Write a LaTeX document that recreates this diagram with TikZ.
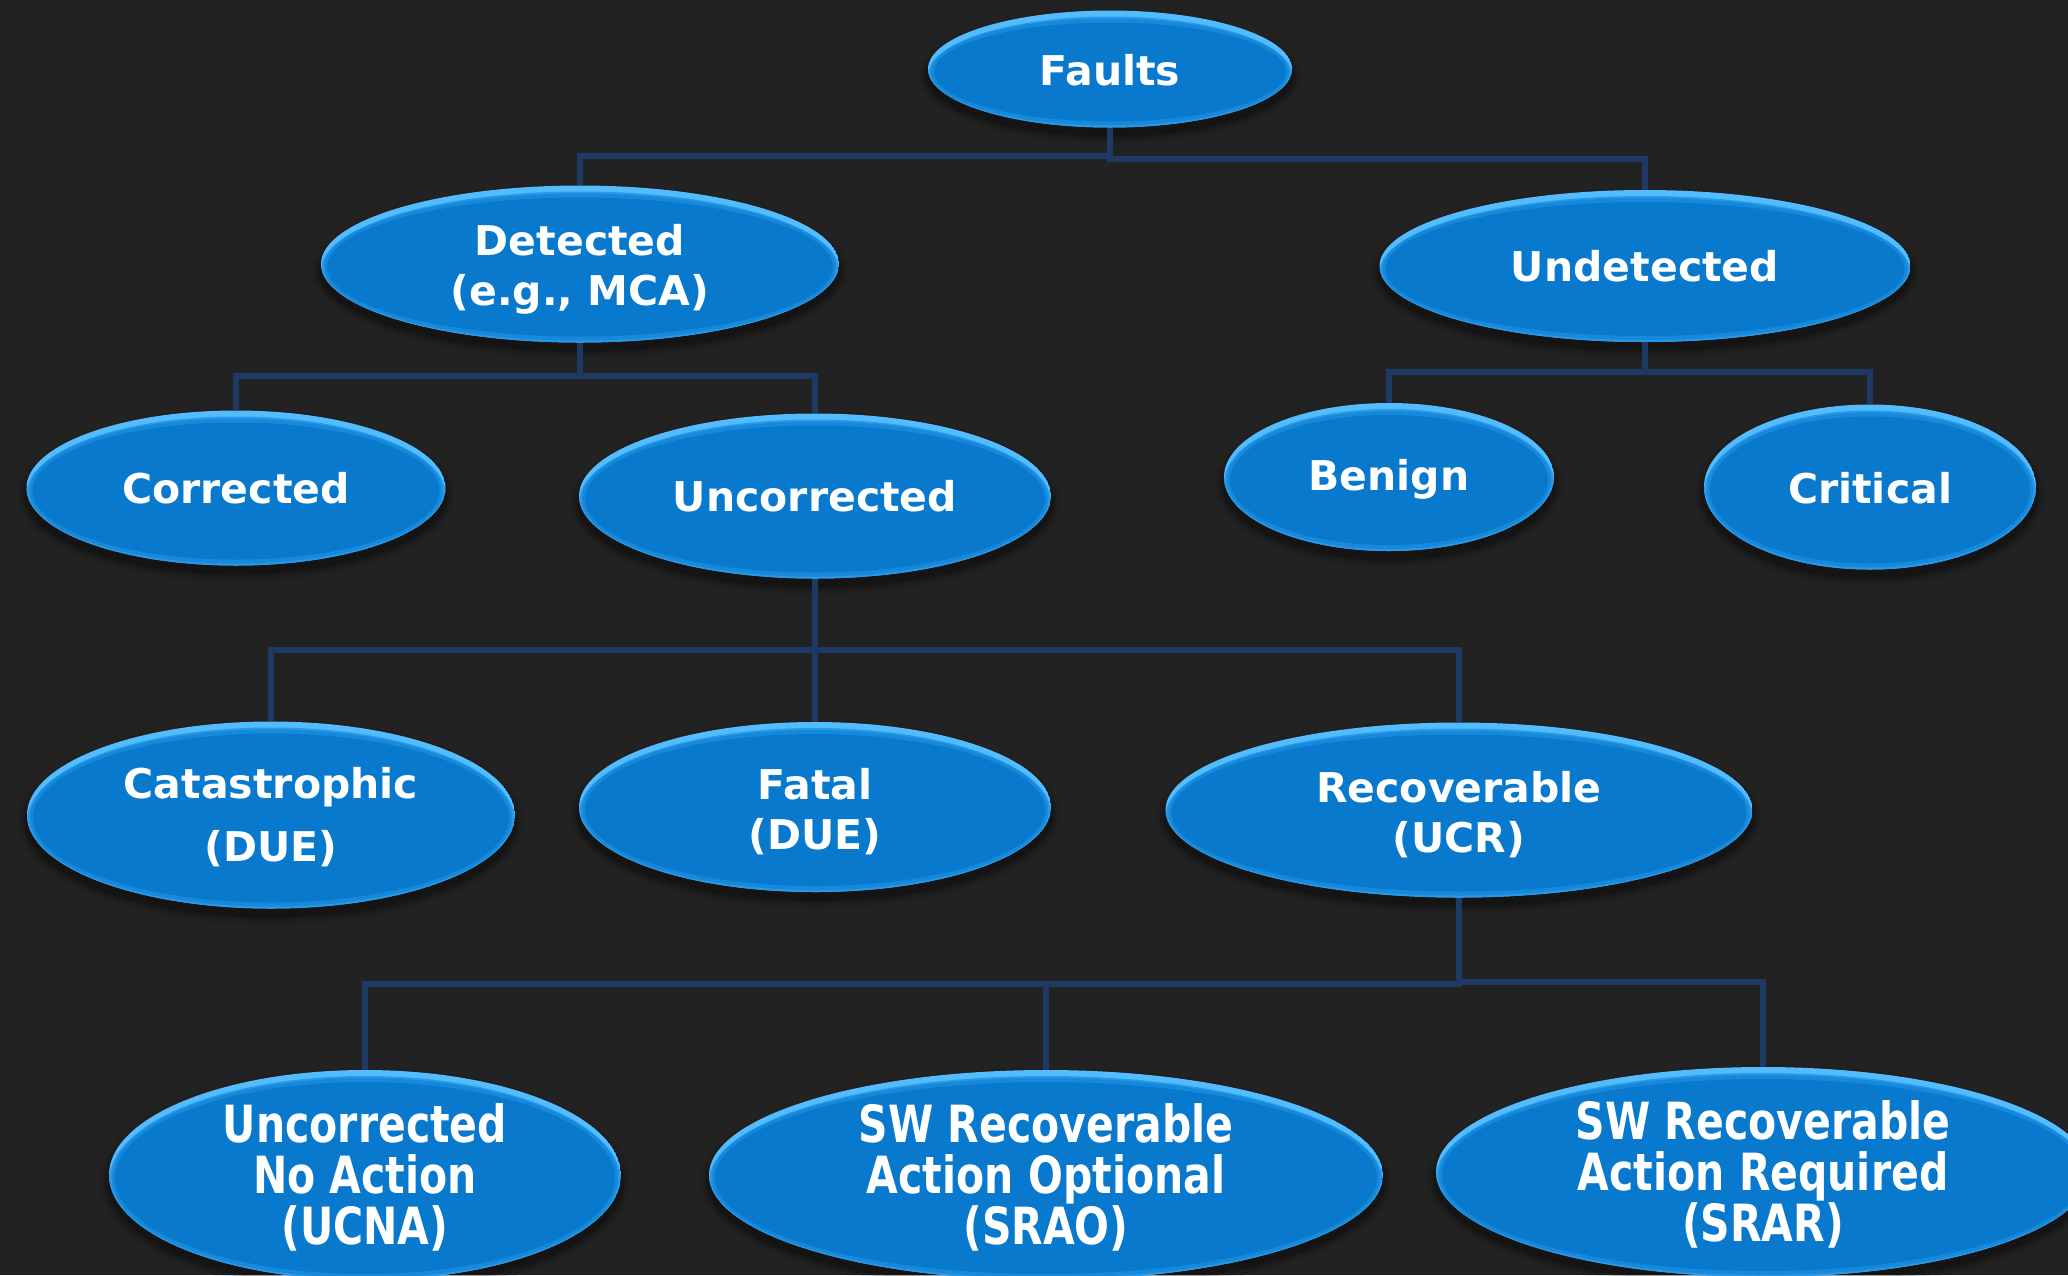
\documentclass[tikz,border=0pt]{standalone}
\usepackage{fontspec}
\usepackage{graphicx}
\setmainfont{DejaVu Sans}
\usetikzlibrary{shapes.geometric}

\definecolor{bgdark}{RGB}{34,34,34}
\definecolor{bodyblue}{RGB}{8,121,204}
\definecolor{rimsoft}{RGB}{22,137,218}
\definecolor{rimmid}{RGB}{40,152,232}
\definecolor{rimlight}{RGB}{82,188,255}
\definecolor{linkblue}{RGB}{30,58,100}

% A glossy blue ellipse with a soft drop shadow.
% #1 node name, #2 x, #3 y (centre), #4 width, #5 height
\newcommand\bubble[5]{%
  \foreach \g/\o in {18/0.07,12/0.09,7/0.11,3/0.14}{%
    \fill[black,opacity=\o] (#2,#3+7) ellipse [x radius={#4/2+\g/2}, y radius={#5/2+\g/2}];}
  \begin{scope}
    \clip (#2,#3) ellipse [x radius=#4/2, y radius=#5/2];
    \fill[rimlight] (#2,#3) ellipse [x radius=#4/2, y radius=#5/2];
    \fill[rimmid] (#2,#3+6) ellipse [x radius=#4/2, y radius=#5/2];
    \fill[rimsoft] (#2,#3+3) ellipse [x radius=#4/2-3, y radius=#5/2-5];
    \fill[bodyblue] (#2,#3+3) ellipse [x radius=#4/2-6, y radius=#5/2-9];
  \end{scope}
  \node[shape=ellipse, inner sep=0pt, minimum width=#4pt, minimum height=#5pt] (#1) at (#2,#3) {};
}
% a line of text stretched upright
\newcommand\tallline[1]{\scalebox{1}[1.25]{#1}}
% three stretched lines on a fixed baseline grid
\newcommand\tallstack[3]{\lineskiplimit=-100pt\relax\tallline{#1}\\\tallline{#2}\\\tallline{#3}}

\begin{document}
\begin{tikzpicture}[x=1pt, y=-1pt,
  conn/.style={draw=linkblue, line width=6pt, line join=miter},
  txt/.style={text=white, font=\fontsize{41}{50}\selectfont\bfseries, align=center, inner sep=0pt},
  tall/.style={txt, font=\fontsize{41}{51}\selectfont\bfseries}]
\useasboundingbox (0,0) rectangle (2068,1275);
\fill[bgdark] (0,0) rectangle (2068,1275);
\clip (0,0) rectangle (2068,1275);

% ellipses
\bubble{faults}{1110}{69}{364}{117}
\bubble{detected}{580}{264}{518}{157}
\bubble{undetected}{1645}{266}{531}{152}
\bubble{corrected}{236}{488}{419}{155}
\bubble{uncorrected}{815}{496}{472}{165}
\bubble{benign}{1389}{477}{330}{148}
\bubble{critical}{1870}{487}{332}{165}
\bubble{catastrophic}{271}{815}{488}{187}
\bubble{fatal}{815}{807}{472}{170}
\bubble{recoverable}{1459}{810}{587}{175}
\bubble{ucna}{365}{1175}{512}{210}
\bubble{srao}{1046}{1175}{674}{210}
\bubble{srar}{1763}{1172}{654}{210}

% labels
\node[txt] (faults-t) at ([yshift=-1pt]faults) {Faults};
\node[txt] (detected-t) at ([yshift=-5pt]detected) {Detected\\(e.g., MCA)};
\node[txt] (undetected-t) at (undetected) {Undetected};
\node[txt] (corrected-t) at (corrected) {Corrected};
\node[txt] (uncorrected-t) at (uncorrected) {Uncorrected};
\node[txt] (benign-t) at ([yshift=-2pt]benign) {Benign};
\node[txt] (critical-t) at ([yshift=-1pt]critical) {Critical};
\node[txt, font=\fontsize{41}{63}\selectfont\bfseries] (catastrophic-t) at ([yshift=-2pt]catastrophic) {Catastrophic\\(DUE)};
\node[txt] (fatal-t) at ([yshift=-5pt]fatal) {Fatal\\(DUE)};
\node[txt] (recoverable-t) at ([yshift=-5pt]recoverable) {Recoverable\\(UCR)};
\node[tall] (ucna-t) at ([yshift=-2pt]ucna) {\tallstack{Uncorrected}{No Action}{(UCNA)}};
\node[tall] (srao-t) at ([yshift=-2pt]srao) {\tallstack{SW Recoverable}{Action Optional}{(SRAO)}};
\node[tall] (srar-t) at ([yshift=-2pt]srar) {\tallstack{SW Recoverable}{Action Required}{(SRAR)}};

% tree connectors
\draw[conn] (faults.south) -- ++(0,28) -| (detected.north);
\draw[conn] (faults.south) -- ++(0,31) -| (undetected.north);
\draw[conn] (detected.south) -- ++(0,33.5) -| (corrected.north);
\draw[conn] (detected.south) -- ++(0,33.5) -| (uncorrected.north);
\draw[conn] (undetected.south) -- ++(0,30) -| (benign.north);
\draw[conn] (undetected.south) -- ++(0,30) -| (critical.north);
\draw[conn] (uncorrected.south) -- ++(0,71.5) -| (catastrophic.north);
\draw[conn] (uncorrected.south) -- (fatal.north);
\draw[conn] (uncorrected.south) -- ++(0,71.5) -| (recoverable.north);
\draw[conn] (recoverable.south) -- ++(0,86.5) -| (ucna.north);
\draw[conn] (recoverable.south) -- ++(0,86.5) -| (srao.north);
\draw[conn] (recoverable.south) -- ++(0,84.5) -| (srar.north);
\end{tikzpicture}
\end{document}
